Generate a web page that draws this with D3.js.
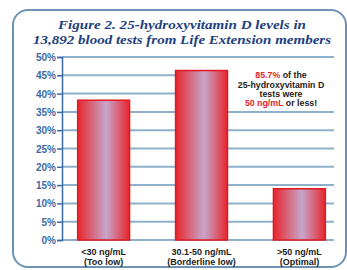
<!DOCTYPE html>
<html>
<head>
<meta charset="UTF-8" />
<style>
  body { margin: 0; background: #fff; }
  svg { display: block; }
  .ytick { font: bold 10px 'Liberation Sans', Arial, sans-serif; fill: #3a6aa6; }
  .xlab { font: bold 9px 'Liberation Sans', Arial, sans-serif; fill: #222; }
  .note { font: bold 8.8px 'Liberation Sans', Arial, sans-serif; fill: #222; }
  .title { font: italic bold 12px 'Liberation Serif', 'DejaVu Serif', serif; fill: #1e3f80; }
</style>
<script src="https://d3js.org/d3.v7.min.js"></script>
</head>
<body>
<div id="chart"></div>
<script>
  // data
  const categories = ['<30 ng/mL', '30.1-50 ng/mL', '>50 ng/mL'];
  const subLabels = ['(Too low)', '(Borderline low)', '(Optimal)'];
  const values = [38.2, 46.3, 14.0];
  const yTicks = [0, 5, 10, 15, 20, 25, 30, 35, 40, 45, 50];
  const titleLines = ['Figure 2. 25-hydroxyvitamin D levels in',
                      '13,892 blood tests from Life Extension members'];

  const width = 347, height = 270;
  const svg = d3.select('#chart').append('svg')
    .attr('width', width).attr('height', height);

  // gradient for bars: red edges, lavender middle
  const grad = svg.append('defs').append('linearGradient')
    .attr('id', 'barGrad').attr('x1', '0%').attr('x2', '100%');
  grad.append('stop').attr('offset', '0%').attr('stop-color', '#e8262c');
  grad.append('stop').attr('offset', '55%').attr('stop-color', '#c6a6cc');
  grad.append('stop').attr('offset', '100%').attr('stop-color', '#e8262c');

  // outer rounded frame
  svg.append('rect')
    .attr('x', 13).attr('y', 10).attr('width', 333).attr('height', 257)
    .attr('rx', 15)
    .attr('fill', 'none').attr('stroke', '#6f93b6').attr('stroke-width', 2);

  // title
  svg.selectAll('.title').data(titleLines).enter().append('text')
    .attr('class', 'title')
    .attr('x', 182)
    .attr('y', (d, i) => 29 + i * 15)
    .attr('text-anchor', 'middle')
    .attr('textLength', (d, i) => i === 0 ? 248 : 298)
    .attr('lengthAdjust', 'spacingAndGlyphs')
    .text(d => d);

  const x0 = 62, x1 = 334;
  const y = d3.scaleLinear().domain([0, 50]).range([240, 57]);
  const x = d3.scaleBand().domain(categories).range([62, 341]).paddingInner(0.47).paddingOuter(0.16);

  // gridlines
  svg.selectAll('.grid').data(yTicks).enter().append('line')
    .attr('x1', x0).attr('x2', x1)
    .attr('y1', d => y(d)).attr('y2', d => y(d))
    .attr('stroke', '#8eb0cb').attr('stroke-width', 2);

  // y axis
  const yAxis = d3.axisLeft(y).tickValues(yTicks).tickSize(5).tickFormat(d => d + '%');
  const ga = svg.append('g').attr('transform', `translate(${x0},0)`).call(yAxis);
  ga.select('.domain').attr('stroke', '#3a6aa6').attr('stroke-width', 1.5);
  ga.selectAll('.tick line').attr('stroke', '#3a6aa6').attr('stroke-width', 1.5);
  ga.selectAll('.tick text').attr('class', 'ytick').attr('x', -6).attr('dy', '0.35em');

  // white box behind annotation
  svg.append('rect')
    .attr('x', 226).attr('y', 62).attr('width', 110).attr('height', 44)
    .attr('fill', '#fff');

  // bars
  svg.selectAll('.bar').data(values).enter().append('rect')
    .attr('x', (d, i) => x(categories[i]))
    .attr('y', d => y(d))
    .attr('width', x.bandwidth())
    .attr('height', d => y(0) - y(d))
    .attr('fill', 'url(#barGrad)')
    .attr('stroke', '#e01a22').attr('stroke-width', 1.5);

  // x labels
  const xl = svg.selectAll('.xl').data(categories).enter().append('text')
    .attr('class', 'xlab')
    .attr('x', d => x(d) + x.bandwidth() / 2)
    .attr('text-anchor', 'middle');
  xl.append('tspan').attr('y', 255).text(d => d);
  xl.append('tspan').attr('x', d => x(d) + x.bandwidth() / 2).attr('y', 265)
    .text((d, i) => subLabels[i]);

  // annotation
  const note = svg.append('text').attr('class', 'note').attr('text-anchor', 'middle');
  const l1 = note.append('tspan').attr('x', 281).attr('y', 78);
  l1.append('tspan').attr('fill', '#e0262c').text('85.7%');
  l1.append('tspan').text(' of the');
  note.append('tspan').attr('x', 281).attr('y', 88).text('25-hydroxyvitamin D');
  note.append('tspan').attr('x', 281).attr('y', 97).text('tests were');
  const l4 = note.append('tspan').attr('x', 281).attr('y', 106);
  l4.append('tspan').attr('fill', '#e0262c').text('50 ng/mL');
  l4.append('tspan').text(' or less!');
</script>
</body>
</html>
